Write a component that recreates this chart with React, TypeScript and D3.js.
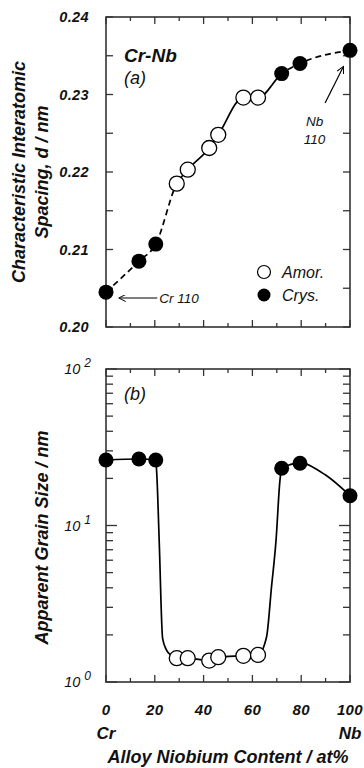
import React from 'react';
import * as d3 from 'd3';

// ---- data ----
const amorX = [29, 33.5, 42.3, 46, 56.3, 62.3];
const amorSpacing = [0.2185, 0.2203, 0.2231, 0.2248, 0.2296, 0.2296];
const amorGrain = [1.42, 1.42, 1.37, 1.44, 1.47, 1.49];

const crysX = [0, 13.5, 20.4, 72, 79.5, 100];
const crysSpacing = [0.2045, 0.2085, 0.2107, 0.2327, 0.234, 0.2357];
const crysGrain = [26.2, 26.6, 26.2, 23.2, 25.0, 15.5];

// guide curve drawn through the grain-size data (panel b)
const grainFitX = [0, 13.5, 20.4, 20.9, 21.8, 23.2, 24.8, 27, 29, 33.5, 42.3, 46, 56.3, 62.3, 65.8, 67.8, 69.7, 71.3, 72, 79.5, 90, 100];
const grainFitY = [26.2, 26.6, 26.2, 20, 8, 1.9, 1.6, 1.47, 1.42, 1.42, 1.37, 1.44, 1.47, 1.49, 1.94, 4, 8.1, 19.5, 23.2, 25.0, 21.0, 15.5];

const xTickLabels = [0, 20, 40, 60, 80, 100];
const spacingTickLabels = [0.2, 0.21, 0.22, 0.23, 0.24];
const grainTickExp = [0, 1, 2];

const FONT = '"Liberation Sans", Arial, Helvetica, sans-serif';

export default function App() {
  const W = 364, H = 768;
  const L = 106, R = 350;
  const aTop = 17, aBot = 327;
  const bTop = 369, bBot = 682;

  const x = d3.scaleLinear().domain([0, 100]).range([L, R]);
  const yA = d3.scaleLinear().domain([0.2, 0.24]).range([aBot, aTop]);
  const yB = d3.scaleLog().domain([1, 100]).range([bBot, bTop]);

  const axisColor = '#333';

  // panel a curve: all points merged in order of x
  const spacingPts: [number, number][] = [
    ...crysX.map((v, i) => [v, crysSpacing[i]] as [number, number]),
    ...amorX.map((v, i) => [v, amorSpacing[i]] as [number, number]),
  ].sort((a, b) => a[0] - b[0]);
  const lineA = d3
    .line<[number, number]>()
    .x((d) => x(d[0]))
    .y((d) => yA(d[1]))
    .curve(d3.curveMonotoneX);
  const pathA = lineA(spacingPts) || '';

  const grainPts: [number, number][] = grainFitX.map((v, i) => [v, grainFitY[i]]);
  const lineB = d3
    .line<[number, number]>()
    .x((d) => x(d[0]))
    .y((d) => yB(d[1]))
    .curve(d3.curveMonotoneX);
  const pathB = lineB(grainPts) || '';

  const solidFrom = x(amorX[0]);
  const solidTo = x(crysX[3]);

  const xMinor = d3.range(0, 101, 10);
  const aTicks = d3.range(0, 9).map((i) => 0.2 + i * 0.005);
  const bMinor: number[] = [];
  [1, 10].forEach((d) => {
    for (let k = 2; k <= 9; k++) bMinor.push(d * k);
  });

  const frame = (top: number, bot: number) => (
    <rect x={L} y={top} width={R - L} height={bot - top} fill="none" stroke={axisColor} strokeWidth={1.6} />
  );

  const xTickMarks = (top: number, bot: number) =>
    xMinor.map((v) => {
      const len = v % 20 === 0 ? 7 : 4;
      return (
        <g key={`xt${top}-${v}`}>
          <line x1={x(v)} x2={x(v)} y1={bot} y2={bot - len} stroke={axisColor} strokeWidth={1.3} />
          <line x1={x(v)} x2={x(v)} y1={top} y2={top + len} stroke={axisColor} strokeWidth={1.3} />
        </g>
      );
    });

  const tickText = {
    fontFamily: FONT,
    fontStyle: 'italic' as const,
    fontWeight: 700,
    fill: '#111',
  };

  return (
    <svg width={W} height={H} style={{ position: 'absolute', left: 0, top: 0, background: '#fff' }}>
      <defs>
        <clipPath id="solidA">
          <rect x={solidFrom} y={0} width={solidTo - solidFrom} height={H} />
        </clipPath>
        <clipPath id="dashA">
          <rect x={0} y={0} width={solidFrom} height={H} />
          <rect x={solidTo} y={0} width={W - solidTo} height={H} />
        </clipPath>
        <marker id="arrow" viewBox="0 0 10 10" refX="9" refY="5" markerWidth="9" markerHeight="7" orient="auto-start-reverse" markerUnits="userSpaceOnUse">
          <path d="M0,0 L10,5 L0,10" fill="none" stroke="#000" strokeWidth={1.4} />
        </marker>
      </defs>

      {/* ---------------- Panel (a) ---------------- */}
      {frame(aTop, aBot)}
      {xTickMarks(aTop, aBot)}
      {aTicks.map((v) => (
        <g key={`ya${v}`}>
          <line x1={L} x2={L + 7} y1={yA(v)} y2={yA(v)} stroke={axisColor} strokeWidth={1.3} />
          <line x1={R} x2={R - 7} y1={yA(v)} y2={yA(v)} stroke={axisColor} strokeWidth={1.3} />
        </g>
      ))}
      {spacingTickLabels.map((v) => (
        <text key={`yal${v}`} x={89} y={yA(v)} dy="0.36em" textAnchor="end" fontSize={14.5} letterSpacing={0.4} {...tickText}>
          {v.toFixed(2)}
        </text>
      ))}

      <path d={pathA} fill="none" stroke="#000" strokeWidth={1.7} strokeDasharray="6,4" clipPath="url(#dashA)" />
      <path d={pathA} fill="none" stroke="#000" strokeWidth={1.7} clipPath="url(#solidA)" />

      {amorX.map((v, i) => (
        <circle key={`aa${i}`} cx={x(v)} cy={yA(amorSpacing[i])} r={7.5} fill="#fff" stroke="#000" strokeWidth={1.3} />
      ))}
      {crysX.map((v, i) => (
        <circle key={`ca${i}`} cx={x(v)} cy={yA(crysSpacing[i])} r={7.5} fill="#000" />
      ))}

      <text x={124} y={62} fontSize={19} {...tickText}>Cr-Nb</text>
      <text x={124} y={84} fontSize={18} {...tickText} fontWeight={400}>(a)</text>

      {/* annotations */}
      <line x1={x(21)} y1={298} x2={x(5.5)} y2={298} stroke="#000" strokeWidth={1.2} markerEnd="url(#arrow)" />
      <text x={x(21.8)} y={303} fontSize={13.5} {...tickText} fontWeight={400}>Cr 110</text>
      <line x1={x(89.8)} y1={103} x2={x(97.2)} y2={67} stroke="#000" strokeWidth={1.2} markerEnd="url(#arrow)" />
      <text x={x(85.5)} y={126} textAnchor="middle" fontSize={13.5} {...tickText} fontWeight={400}>Nb</text>
      <text x={x(85.5)} y={144} textAnchor="middle" fontSize={13.5} {...tickText} fontWeight={400}>110</text>

      {/* legend */}
      <circle cx={264} cy={272} r={6.5} fill="#fff" stroke="#000" strokeWidth={1.2} />
      <text x={282} y={272} dy="0.36em" fontSize={16} {...tickText} fontWeight={400}>Amor.</text>
      <circle cx={264} cy={295} r={6.5} fill="#000" />
      <text x={282} y={295} dy="0.36em" fontSize={16} {...tickText} fontWeight={400}>Crys.</text>

      {/* y title (a) */}
      <g transform={`translate(25, ${(aTop + aBot) / 2}) rotate(-90)`}>
        <text x={0} y={0} textAnchor="middle" fontSize={18} {...tickText}>Characteristic Interatomic</text>
      </g>
      <g transform={`translate(48, ${(aTop + aBot) / 2}) rotate(-90)`}>
        <text x={0} y={0} textAnchor="middle" fontSize={18} {...tickText}>Spacing, d / nm</text>
      </g>

      {/* ---------------- Panel (b) ---------------- */}
      {frame(bTop, bBot)}
      {xTickMarks(bTop, bBot)}
      {grainTickExp.map((e) => {
        const v = Math.pow(10, e);
        return (
          <g key={`ybm${e}`}>
            <line x1={L} x2={L + 11} y1={yB(v)} y2={yB(v)} stroke={axisColor} strokeWidth={1.3} />
            <line x1={R} x2={R - 11} y1={yB(v)} y2={yB(v)} stroke={axisColor} strokeWidth={1.3} />
          </g>
        );
      })}
      {bMinor.map((v) => (
        <g key={`ybn${v}`}>
          <line x1={L} x2={L + 7} y1={yB(v)} y2={yB(v)} stroke={axisColor} strokeWidth={1.3} />
          <line x1={R} x2={R - 7} y1={yB(v)} y2={yB(v)} stroke={axisColor} strokeWidth={1.3} />
        </g>
      ))}
      {grainTickExp.map((e) => (
        <text key={`ybl${e}`} x={91} y={yB(Math.pow(10, e))} dy="0.36em" textAnchor="end" fontSize={14.5} {...tickText} fontWeight={400}>
          {'10 '}
          <tspan dy={-7} fontSize={12}>{e}</tspan>
        </text>
      ))}

      <path d={pathB} fill="none" stroke="#000" strokeWidth={1.7} />
      {amorX.map((v, i) => (
        <circle key={`ab${i}`} cx={x(v)} cy={yB(amorGrain[i])} r={7.5} fill="#fff" stroke="#000" strokeWidth={1.3} />
      ))}
      {crysX.map((v, i) => (
        <circle key={`cb${i}`} cx={x(v)} cy={yB(crysGrain[i])} r={7.5} fill="#000" />
      ))}

      <text x={124} y={400} fontSize={18} {...tickText} fontWeight={400}>(b)</text>

      {/* x tick labels */}
      {xTickLabels.map((v) => (
        <text key={`xl${v}`} x={x(v)} y={710} dy="0.36em" textAnchor="middle" fontSize={15} letterSpacing={0.4} {...tickText}>
          {v}
        </text>
      ))}
      <text x={x(0)} y={733} dy="0.36em" textAnchor="middle" fontSize={17} {...tickText}>Cr</text>
      <text x={x(100)} y={733} dy="0.36em" textAnchor="middle" fontSize={17} {...tickText}>Nb</text>
      <text x={(L + R) / 2} y={757} dy="0.36em" textAnchor="middle" fontSize={18} {...tickText}>Alloy Niobium Content / at%</text>

      {/* y title (b) */}
      <g transform={`translate(48, ${(bTop + bBot) / 2 + 12}) rotate(-90)`}>
        <text x={0} y={0} textAnchor="middle" fontSize={18} {...tickText}>Apparent Grain Size / nm</text>
      </g>
    </svg>
  );
}
